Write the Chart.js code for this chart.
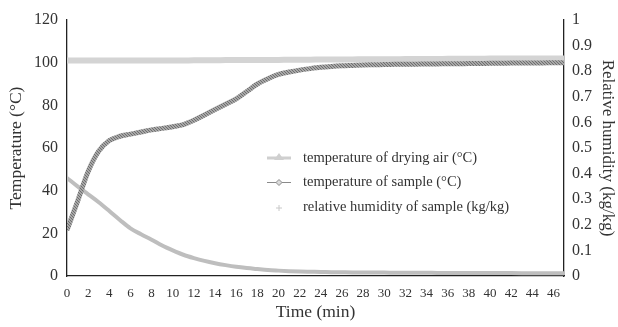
<!DOCTYPE html>
<html>
<head>
<meta charset="utf-8">
<script src="https://cdn.jsdelivr.net/npm/chart.js@4.4.0/dist/chart.umd.min.js"></script>
<style>
  html, body { margin: 0; padding: 0; background: #fff; }
  #wrap { width: 618px; height: 327px; }
</style>
</head>
<body>
<div id="wrap"><canvas id="myChart" width="618" height="327"></canvas></div>
<script>
// time in minutes
const tiempo = [0,1,2,3,4,5,6,7,8,9,10,11,12,13,14,15,16,17,18,19,20,21,22,23,24,25,26,27,28,29,30,31,32,33,34,35,36,37,38,39,40,41,42,43,44,45,46,47]

// temperature of drying air (°C)
const tempAire = [101,101,101,101,101,101,101,101,101,101,101,101,101.1,101.1,101.1,101.2,101.2,101.2,101.3,101.3,101.3,101.4,101.4,101.4,101.5,101.5,101.5,101.5,101.6,101.6,101.6,101.6,101.7,101.7,101.7,101.7,101.8,101.8,101.8,101.8,101.9,101.9,101.9,101.9,102,102,102,102]

// temperature of sample (°C)
const tempMuestra = [21.5,35,49,58.5,63.5,65.5,66.5,67.5,68.5,69.2,70,71,73,75.5,78,80.5,83,86.5,90,92.5,94.5,95.6,96.5,97.2,97.8,98.2,98.5,98.7,98.9,99,99.1,99.2,99.3,99.3,99.4,99.4,99.5,99.5,99.6,99.6,99.7,99.7,99.8,99.8,99.9,99.9,100,100]

// relative humidity of sample (kg/kg)
const humedad = [0.383,0.35,0.319,0.288,0.254,0.219,0.186,0.163,0.142,0.119,0.1,0.083,0.07,0.059,0.05,0.0425,0.036,0.031,0.027,0.0233,0.021,0.019,0.0175,0.0167,0.016,0.015,0.0145,0.014,0.0138,0.0135,0.0133,0.013,0.0128,0.0126,0.0124,0.0122,0.012,0.0118,0.0117,0.0116,0.0115,0.0114,0.0113,0.0112,0.0111,0.011,0.011,0.011]

const fuente = "'Liberation Serif', 'DejaVu Serif', serif"

function puntos(valores) {
    return valores.map((v, i) => ({ x: tiempo[i], y: v }))
}

// hatched grey pattern for the sample curve (dense diamond markers in the original)
function patronRayado() {
    const c = document.createElement('canvas')
    c.width = 3
    c.height = 3
    const g = c.getContext('2d')
    g.fillStyle = '#a8a8a8'
    g.fillRect(0, 0, 3, 3)
    g.fillStyle = '#6e6e6e'
    g.fillRect(0, 0, 1, 1)
    g.fillRect(1, 1, 1, 1)
    g.fillRect(2, 2, 1, 1)
    return g.createPattern(c, 'repeat')
}

// legend drawn inside the plot area
const leyendaPlugin = {
    id: 'leyendaDentro',
    afterDraw(chart) {
        const ctx = chart.ctx
        const items = [
            { label: 'temperature of drying air (°C)', color: '#cfcfcf', width: 3, style: 'triangle' },
            { label: 'temperature of sample (°C)', color: '#8a8a8a', width: 1, style: 'diamond' },
            { label: 'relative humidity of sample (kg/kg)', color: '#c8c8c8', width: 0, style: 'cross' }
        ]
        const x0 = 267, x1 = 291, xt = 303
        let y = 158
        ctx.save()
        items.forEach(it => {
            if (it.width > 0) {
                ctx.strokeStyle = it.color
                ctx.lineWidth = it.width
                ctx.beginPath()
                ctx.moveTo(x0, y)
                ctx.lineTo(x1, y)
                ctx.stroke()
            }
            const cx = (x0 + x1) / 2
            if (it.style === 'triangle') {
                ctx.fillStyle = it.color
                ctx.beginPath()
                ctx.moveTo(cx, y - 5)
                ctx.lineTo(cx + 5, y + 2)
                ctx.lineTo(cx - 5, y + 2)
                ctx.closePath()
                ctx.fill()
            } else if (it.style === 'diamond') {
                ctx.fillStyle = '#dcdcdc'
                ctx.strokeStyle = '#8a8a8a'
                ctx.lineWidth = 1
                ctx.beginPath()
                ctx.moveTo(cx, y - 3)
                ctx.lineTo(cx + 3, y)
                ctx.lineTo(cx, y + 3)
                ctx.lineTo(cx - 3, y)
                ctx.closePath()
                ctx.fill()
                ctx.stroke()
            } else {
                ctx.strokeStyle = it.color
                ctx.lineWidth = 1
                ctx.beginPath()
                ctx.moveTo(cx - 3, y + 1)
                ctx.lineTo(cx + 3, y + 1)
                ctx.moveTo(cx, y - 2)
                ctx.lineTo(cx, y + 4)
                ctx.stroke()
            }
            ctx.fillStyle = '#333'
            ctx.font = '14.5px ' + fuente
            ctx.textBaseline = 'middle'
            ctx.textAlign = 'left'
            ctx.fillText(it.label, xt, y)
            y += 24.5
        })
        ctx.restore()
    }
}

const data = {
    datasets: [{
        label: 'temperature of sample (°C)',
        data: puntos(tempMuestra),
        borderColor: patronRayado(),
        borderWidth: 5,
        pointRadius: 0,
        yAxisID: 'y',
        cubicInterpolationMode: 'monotone'
    }, {
        label: 'temperature of drying air (°C)',
        data: puntos(tempAire),
        borderColor: '#d4d4d4',
        borderWidth: 6,
        pointRadius: 0,
        yAxisID: 'y',
        cubicInterpolationMode: 'monotone'
    }, {
        label: 'relative humidity of sample (kg/kg)',
        data: puntos(humedad),
        borderColor: '#bebebe',
        borderWidth: 4,
        pointRadius: 0,
        yAxisID: 'y1',
        cubicInterpolationMode: 'monotone'
    }]
}

const config = {
    type: 'line',
    data: data,
    plugins: [leyendaPlugin],
    options: {
        responsive: false,
        animation: false,
        layout: { padding: { top: 20 } },
        plugins: {
            legend: { display: false },
            tooltip: { enabled: false }
        },
        scales: {
            x: {
                type: 'linear',
                min: 0,
                max: 47,
                afterBuildTicks: (axis) => {
                    axis.ticks = tiempo.filter(t => t % 2 === 0 && t <= 46).map(t => ({ value: t }))
                },
                afterFit: (axis) => { axis.height = 51 },
                grid: { display: false, drawTicks: false },
                border: { color: '#222', width: 1.3 },
                ticks: { color: '#333', font: { family: fuente, size: 13 }, padding: 10, maxRotation: 0, autoSkip: false },
                title: { display: true, text: 'Time (min)', color: '#333', font: { family: fuente, size: 17.5 }, padding: { top: 8 } }
            },
            y: {
                position: 'left',
                min: 0,
                max: 120,
                afterFit: (axis) => { axis.width = 67 },
                grid: { display: false, drawOnChartArea: false, drawTicks: true, tickLength: 6, color: '#555' },
                border: { color: '#222', width: 1.3 },
                ticks: { stepSize: 20, color: '#333', font: { family: fuente, size: 16 }, padding: 3 },
                title: { display: true, text: 'Temperature (°C)', color: '#333', font: { family: fuente, size: 17.5 }, padding: { top: 6, bottom: 0 } }
            },
            y1: {
                position: 'right',
                min: 0,
                max: 1,
                afterFit: (axis) => { axis.width = 54 },
                grid: { display: false, drawOnChartArea: false, drawTicks: true, tickLength: 5, color: '#555' },
                border: { color: '#222', width: 1.3 },
                ticks: { stepSize: 0.1, color: '#333', font: { family: fuente, size: 16 }, padding: 3,
                    callback: (v) => Math.round(v * 10) / 10 },
                title: { display: true, text: 'Relative humidity (kg/kg)', color: '#333', font: { family: fuente, size: 17 }, padding: { top: 0, bottom: 0 } }
            }
        }
    }
}

let myChart = new Chart(document.getElementById('myChart'), config)
</script>
</body>
</html>
